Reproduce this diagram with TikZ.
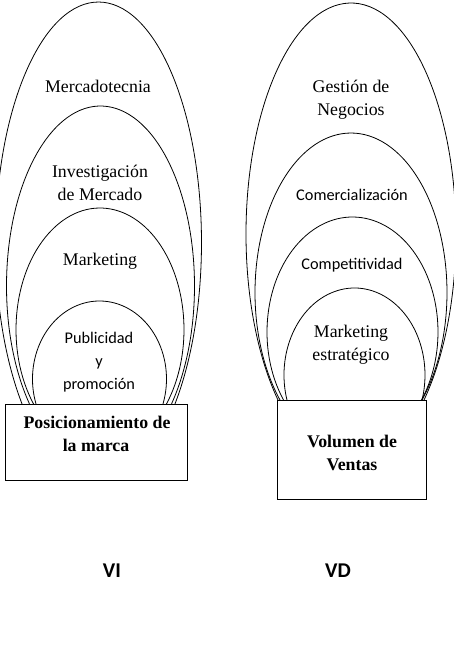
\documentclass[tikz,border=0pt]{standalone}
\usepackage{fontspec}
\setmainfont{Liberation Serif}
\newfontfamily\calibri{Carlito}
\begin{document}
\begin{tikzpicture}[x=1pt,y=1pt,line width=0.8pt,
  serif/.style={anchor=base,inner sep=0pt,font=\fontsize{17.8}{23}\selectfont},
  sans/.style={anchor=base,inner sep=0pt,font=\calibri\fontsize{16.3}{23}\selectfont},
  boxtext/.style={anchor=base,inner sep=0pt,font=\bfseries\fontsize{17.8}{23}\selectfont},
  vartext/.style={anchor=base,inner sep=0pt,font=\calibri\bfseries\fontsize{21}{25}\selectfont},
  varbox/.style={draw,rectangle,inner sep=0pt}]
\useasboundingbox (0,0) rectangle (454,-657);

\draw (98.5,-242.7) ++(222.1:103 and 240.7) arc[start angle=222.1,end angle=-42.1,x radius=103,y radius=240.7];
\draw (100.5,-286) ++(220.9:94 and 180) arc[start angle=220.9,end angle=-40.9,x radius=94,y radius=180];
\draw (100,-329.6) ++(217.7:84 and 121.6) arc[start angle=217.7,end angle=-37.7,x radius=84,y radius=121.6];
\draw (99.5,-379) ++(198.6:67 and 78) arc[start angle=198.6,end angle=-18.6,x radius=67,y radius=78];
\node[serif] (mercadotecnia) at (98,-92.7) {Mercadotecnia};
\node[serif] (investigacion) at (100,-177) {Investigación};
\node[serif] (demercado) at (100,-200) {de Mercado};
\node[serif] (marketing) at (100,-265) {Marketing};
\node[sans] (publicidad) at (99,-343) {Publicidad};
\node[sans] (ylabel) at (99,-366) {y};
\node[sans] (promocion) at (99,-389) {promoción};
\node[varbox,minimum width=182,minimum height=76,fill=white] (posicionamiento) at (96,-442) {};
\node[boxtext] (posline1) at (97,-428) {Posicionamiento de};
\node[boxtext] (posline2) at (96,-451) {la marca};

\draw (351,-234) ++(226:105 and 231) arc[start angle=226,end angle=-46,x radius=105,y radius=231];
\draw (351,-292.6) ++(222.3:96 and 159.6) arc[start angle=222.3,end angle=-42.3,x radius=96,y radius=159.6];
\draw (352.5,-332) ++(216.2:85.5 and 115) arc[start angle=216.2,end angle=-36.2,x radius=85.5,y radius=115];
\draw (354.5,-375) ++(196.8:70.5 and 87) arc[start angle=196.8,end angle=-16.8,x radius=70.5,y radius=87];
\node[serif] (gestion) at (351,-92) {Gestión de};
\node[serif] (negocios) at (351,-115) {Negocios};
\node[sans] (comercializacion) at (352,-200) {Comercialización};
\node[sans] (competitividad) at (352,-269) {Competitividad};
\node[serif] (marketingest) at (351,-337) {Marketing};
\node[serif] (estrategico) at (351,-360) {estratégico};
\node[varbox,minimum width=149,minimum height=99,fill=white] (volumen) at (351.5,-449.5) {};
\node[boxtext] (volline1) at (352,-447) {Volumen de};
\node[boxtext] (volline2) at (352,-470) {Ventas};

\node[vartext] (vi) at (112,-577) {VI};
\node[vartext] (vd) at (338,-577) {VD};
\end{tikzpicture}
\end{document}
